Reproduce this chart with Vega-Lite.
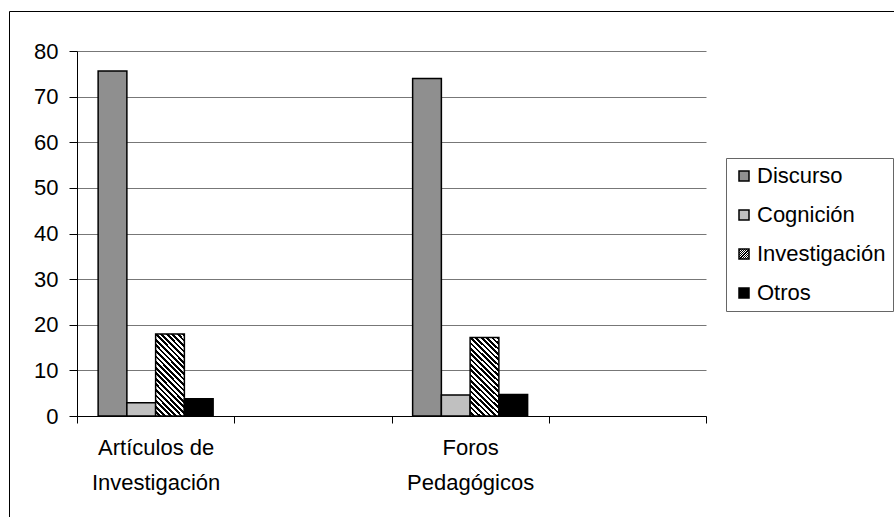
{
  "$schema": "https://vega.github.io/schema/vega-lite/v6.json",
  "autosize": {"type": "none"},
  "width": 629,
  "height": 365,
  "padding": {"left": 77, "top": 51, "right": 188, "bottom": 101},
  "background": "#ffffff",
  "config": {
    "font": "Liberation Sans",
    "view": {"stroke": null}
  },
  "data": {
    "values": [
      {"categoria": "Artículos de Investigación", "serie": "Discurso", "valor": 75.6},
      {"categoria": "Artículos de Investigación", "serie": "Cognición", "valor": 2.9},
      {"categoria": "Artículos de Investigación", "serie": "Investigación", "valor": 18.0},
      {"categoria": "Artículos de Investigación", "serie": "Otros", "valor": 3.8},
      {"categoria": "Foros Pedagógicos", "serie": "Discurso", "valor": 74.0},
      {"categoria": "Foros Pedagógicos", "serie": "Cognición", "valor": 4.6},
      {"categoria": "Foros Pedagógicos", "serie": "Investigación", "valor": 17.2},
      {"categoria": "Foros Pedagógicos", "serie": "Otros", "valor": 4.7}
    ]
  },
  "layer": [
    {
      "mark": {"type": "bar", "stroke": "#000000", "strokeWidth": 1.5},
      "encoding": {
        "x": {
          "field": "categoria",
          "type": "nominal",
          "sort": null,
          "scale": {
            "domain": ["Artículos de Investigación", "b1", "Foros Pedagógicos", "b2"],
            "paddingInner": 0,
            "paddingOuter": 0
          },
          "axis": {
            "title": null,
            "tickBand": "extent",
            "domainColor": "#000000",
            "tickColor": "#000000",
            "tickSize": 7,
            "labelFontSize": 22,
            "labelColor": "#000000",
            "labelAngle": 0,
            "labelPadding": 14,
            "labelLineHeight": 35,
            "labelExpr": "datum.value == 'Artículos de Investigación' ? ['Artículos de', 'Investigación'] : datum.value == 'Foros Pedagógicos' ? ['Foros', 'Pedagógicos'] : ''"
          }
        },
        "xOffset": {
          "field": "serie",
          "type": "nominal",
          "sort": null,
          "scale": {
            "domain": ["Discurso", "Cognición", "Investigación", "Otros"],
            "paddingInner": 0,
            "paddingOuter": 0.735
          }
        },
        "y": {
          "field": "valor",
          "type": "quantitative",
          "scale": {"domain": [0, 80], "nice": false},
          "axis": {
            "title": null,
            "values": [0, 10, 20, 30, 40, 50, 60, 70, 80],
            "grid": true,
            "gridColor": "#777777",
            "domainColor": "#000000",
            "tickColor": "#000000",
            "tickSize": 8,
            "labelFontSize": 22,
            "labelColor": "#000000",
            "labelPadding": 11
          }
        },
        "color": {
          "field": "serie",
          "type": "nominal",
          "sort": null,
          "scale": {
            "domain": ["Discurso", "Cognición", "Investigación", "Otros"],
            "range": [
              "#8f8f8f",
              "#c0c0c0",
              {"expr": "{gradient: 'linear', x1: 0, y1: 1, x2: 0.43, y2: -0.204, stops: [{offset: 0, color: '#fff'}, {offset: 0.025, color: '#fff'}, {offset: 0.025, color: '#000'}, {offset: 0.05, color: '#000'}, {offset: 0.05, color: '#fff'}, {offset: 0.075, color: '#fff'}, {offset: 0.075, color: '#000'}, {offset: 0.1, color: '#000'}, {offset: 0.1, color: '#fff'}, {offset: 0.125, color: '#fff'}, {offset: 0.125, color: '#000'}, {offset: 0.15, color: '#000'}, {offset: 0.15, color: '#fff'}, {offset: 0.175, color: '#fff'}, {offset: 0.175, color: '#000'}, {offset: 0.2, color: '#000'}, {offset: 0.2, color: '#fff'}, {offset: 0.225, color: '#fff'}, {offset: 0.225, color: '#000'}, {offset: 0.25, color: '#000'}, {offset: 0.25, color: '#fff'}, {offset: 0.275, color: '#fff'}, {offset: 0.275, color: '#000'}, {offset: 0.3, color: '#000'}, {offset: 0.3, color: '#fff'}, {offset: 0.325, color: '#fff'}, {offset: 0.325, color: '#000'}, {offset: 0.35, color: '#000'}, {offset: 0.35, color: '#fff'}, {offset: 0.375, color: '#fff'}, {offset: 0.375, color: '#000'}, {offset: 0.4, color: '#000'}, {offset: 0.4, color: '#fff'}, {offset: 0.425, color: '#fff'}, {offset: 0.425, color: '#000'}, {offset: 0.45, color: '#000'}, {offset: 0.45, color: '#fff'}, {offset: 0.475, color: '#fff'}, {offset: 0.475, color: '#000'}, {offset: 0.5, color: '#000'}, {offset: 0.5, color: '#fff'}, {offset: 0.525, color: '#fff'}, {offset: 0.525, color: '#000'}, {offset: 0.55, color: '#000'}, {offset: 0.55, color: '#fff'}, {offset: 0.575, color: '#fff'}, {offset: 0.575, color: '#000'}, {offset: 0.6, color: '#000'}, {offset: 0.6, color: '#fff'}, {offset: 0.625, color: '#fff'}, {offset: 0.625, color: '#000'}, {offset: 0.65, color: '#000'}, {offset: 0.65, color: '#fff'}, {offset: 0.675, color: '#fff'}, {offset: 0.675, color: '#000'}, {offset: 0.7, color: '#000'}, {offset: 0.7, color: '#fff'}, {offset: 0.725, color: '#fff'}, {offset: 0.725, color: '#000'}, {offset: 0.75, color: '#000'}, {offset: 0.75, color: '#fff'}, {offset: 0.775, color: '#fff'}, {offset: 0.775, color: '#000'}, {offset: 0.8, color: '#000'}, {offset: 0.8, color: '#fff'}, {offset: 0.825, color: '#fff'}, {offset: 0.825, color: '#000'}, {offset: 0.85, color: '#000'}, {offset: 0.85, color: '#fff'}, {offset: 0.875, color: '#fff'}, {offset: 0.875, color: '#000'}, {offset: 0.9, color: '#000'}, {offset: 0.9, color: '#fff'}, {offset: 0.925, color: '#fff'}, {offset: 0.925, color: '#000'}, {offset: 0.95, color: '#000'}, {offset: 0.95, color: '#fff'}, {offset: 0.975, color: '#fff'}, {offset: 0.975, color: '#000'}, {offset: 1, color: '#000'}]}"},
              "#000000"
            ]
          },
          "legend": {
            "title": null,
            "orient": "none",
            "legendX": 649,
            "legendY": 107,
            "padding": 7,
            "strokeColor": "#666666",
            "fillColor": "#ffffff",
            "symbolType": "square",
            "symbolSize": 100,
            "symbolStrokeColor": "#000000",
            "labelFontSize": 22,
            "labelColor": "#000000",
            "labelOffset": 2,
            "rowPadding": 17
          }
        }
      }
    },
    {
      "mark": {"type": "rule", "opacity": 0},
      "encoding": {
        "y": {"field": "valor", "type": "quantitative"},
        "strokeDash": {
          "field": "categoria",
          "type": "nominal",
          "legend": {
            "title": null,
            "orient": "none",
            "legendX": -68,
            "legendY": -40,
            "padding": 700,
            "strokeColor": "#000000",
            "labelColor": "#ffffff",
            "labelExpr": "''",
            "symbolOpacity": 0
          }
        }
      }
    }
  ]
}
